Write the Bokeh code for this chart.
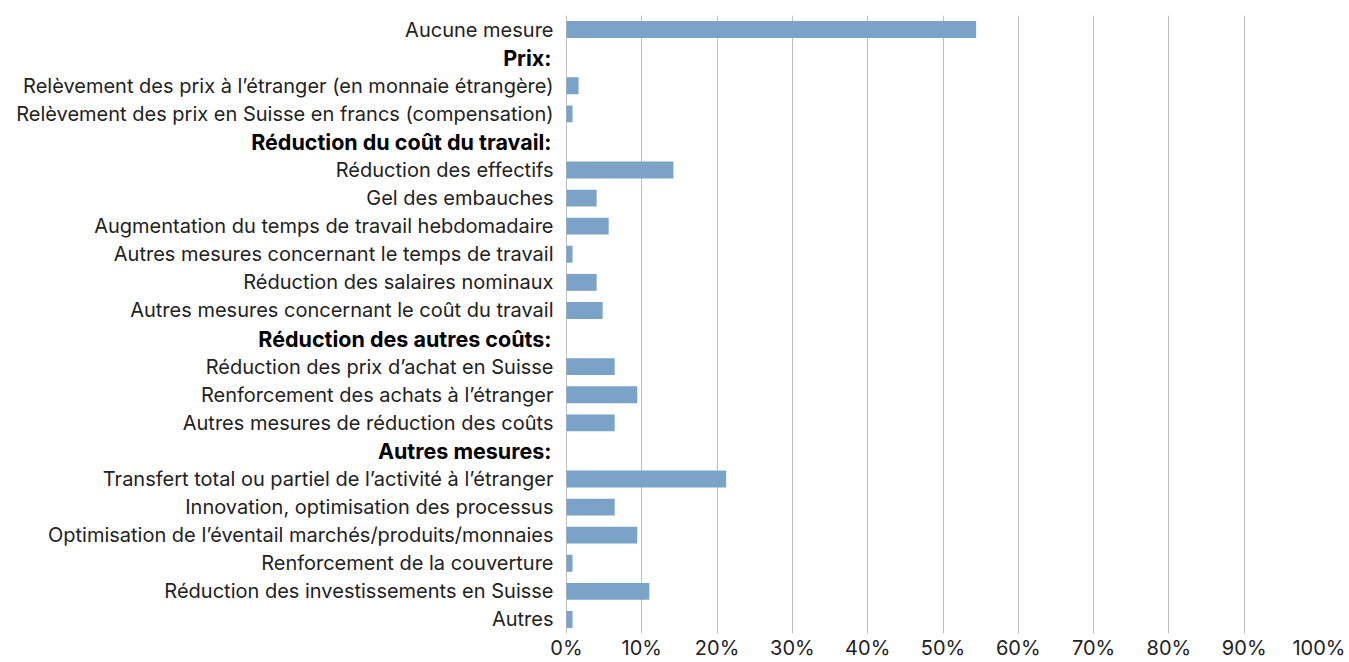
from bokeh.plotting import figure
from bokeh.models import ColumnDataSource, Range1d, FactorRange, FixedTicker, PrintfTickFormatter
from bokeh.core.properties import value
from bokeh.embed import file_html
from bokeh.resources import INLINE

categories = [
    "Aucune mesure",
    "Prix:",
    "Relèvement des prix à l’étranger (en monnaie étrangère)",
    "Relèvement des prix en Suisse en francs (compensation)",
    "Réduction du coût du travail:",
    "Réduction des effectifs",
    "Gel des embauches",
    "Augmentation du temps de travail hebdomadaire",
    "Autres mesures concernant le temps de travail",
    "Réduction des salaires nominaux",
    "Autres mesures concernant le coût du travail",
    "Réduction des autres coûts:",
    "Réduction des prix d’achat en Suisse",
    "Renforcement des achats à l’étranger",
    "Autres mesures de réduction des coûts",
    "Autres mesures:",
    "Transfert total ou partiel de l’activité à l’étranger",
    "Innovation, optimisation des processus",
    "Optimisation de l’éventail marchés/produits/monnaies",
    "Renforcement de la couverture",
    "Réduction des investissements en Suisse",
    "Autres",
]
values = [54.4, None, 1.6, 0.8, None, 14.2, 4.0, 5.6, 0.8, 4.0, 4.8, None,
          6.4, 9.4, 6.4, None, 21.2, 6.4, 9.4, 0.8, 11.0, 0.8]
is_header = [v is None for v in values]
x_ticks = list(range(0, 101, 10))

FONT = "Inter"
FS = "20px"
FS_BOLD = "21.5px"
TEXT = "#222222"
BAR = "#7BA2C7"
GRID = "#BDBDBD"

bar_src = ColumnDataSource(dict(
    cat=[c for c, v in zip(categories, values) if v is not None],
    val=[v for v in values if v is not None],
))
lab_src = ColumnDataSource(dict(
    cat=[c for c, h in zip(categories, is_header) if not h],
    x=[0] * sum(1 for h in is_header if not h),
))
head_src = ColumnDataSource(dict(
    cat=[c for c, h in zip(categories, is_header) if h],
    x=[0] * sum(1 for h in is_header if h),
))

# Layout: frame spans from page left to the 100% line; left part of the
# x range (negative) hosts the category labels.
W, H = 1345, 662
FRAME_W = 1319
ZERO_PX = 566
x_start = -100.0 * ZERO_PX / (FRAME_W - ZERO_PX)

p = figure(width=W, height=H, output_backend="svg", toolbar_location=None,
           x_range=Range1d(x_start, 100), y_range=FactorRange(*reversed(categories)),
           min_border_left=0, min_border_right=W - FRAME_W,
           min_border_top=15, min_border_bottom=H - 636)
p.y_range.range_padding = 0
p.outline_line_color = None
p.background_fill_color = None
p.border_fill_color = None

p.hbar(y="cat", right="val", left=0, height=0.6, source=bar_src,
       fill_color=BAR, line_color=None)

p.yaxis.visible = False
p.ygrid.grid_line_color = None

p.xaxis.ticker = FixedTicker(ticks=x_ticks)
p.xaxis.formatter = PrintfTickFormatter(format="%d%%")
p.xaxis.axis_line_color = None
p.xaxis.major_tick_line_color = None
p.xaxis.minor_tick_line_color = None
p.xaxis.major_tick_in = 0
p.xaxis.major_tick_out = 0
p.xaxis.minor_tick_out = 0
p.xaxis.major_label_standoff = 2
p.xaxis.major_label_text_font = FONT
p.xaxis.major_label_text_font_size = FS
p.xaxis.major_label_text_color = TEXT
p.xgrid.ticker = FixedTicker(ticks=x_ticks)
p.xgrid.grid_line_color = GRID
p.xgrid.grid_line_width = 1

p.text(x="x", y="cat", text="cat", source=lab_src, x_offset=-13,
       text_align="right", text_baseline="middle",
       text_font=value(FONT), text_font_size=FS, text_color=TEXT)
p.text(x="x", y="cat", text="cat", source=head_src, x_offset=-15,
       text_align="right", text_baseline="middle",
       text_font=value(FONT), text_font_size=FS_BOLD, text_font_style="bold",
       text_color="#000000")

open("out.html", "w").write(file_html(p, INLINE))
